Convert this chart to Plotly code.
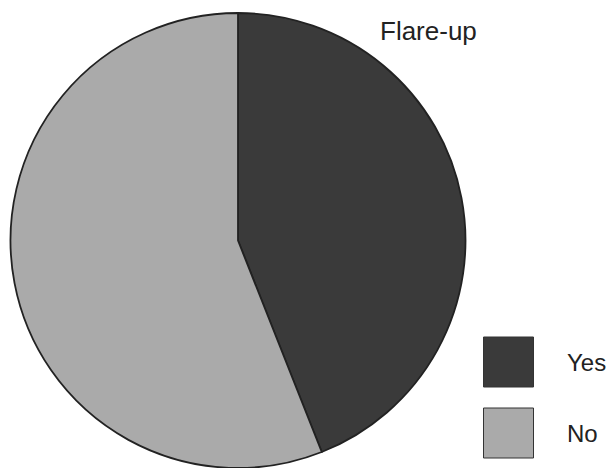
import plotly.graph_objects as go

# Flare-up occurrence (percent of patients)
categories = ["Yes", "No"]
shares = [44, 56]
slice_colors = ["#3a3a3a", "#aaaaaa"]
legend_title = "Flare-up"

W, H = 610, 468
FONT = "Liberation Sans, Arial, sans-serif"

fig = go.Figure(
    go.Pie(
        labels=categories,
        values=shares,
        sort=False,
        direction="clockwise",
        rotation=0,
        marker=dict(colors=slice_colors, line=dict(color="#222222", width=1.8)),
        textinfo="none",
        hoverinfo="label+percent",
        domain=dict(x=[10.5 / W, 465.5 / W], y=[0, 455 / H]),
        showlegend=False,
    )
)

# Hand-built legend with large swatches
def px(x):
    return x / W

def py(y):
    return 1 - y / H

shapes = []
annotations = [
    dict(text=legend_title, x=px(378), y=py(31), xref="paper", yref="paper",
         xanchor="left", yanchor="middle", showarrow=False,
         font=dict(family=FONT, size=26, color="#222222"))
]
box_tops = [337, 408]
for name, color, top in zip(categories, slice_colors, box_tops):
    shapes.append(dict(type="rect", xref="paper", yref="paper",
                       x0=px(483.5), x1=px(533.5), y0=py(top + 50), y1=py(top),
                       fillcolor=color, line=dict(color="#333333", width=1)))
    annotations.append(dict(text=name, x=px(565), y=py(top + 25), xref="paper", yref="paper",
                            xanchor="left", yanchor="middle", showarrow=False,
                            font=dict(family=FONT, size=24, color="#222222")))

fig.update_layout(
    width=W, height=H, autosize=False,
    margin=dict(l=0, r=0, t=0, b=0),
    paper_bgcolor="white", plot_bgcolor="white",
    shapes=shapes, annotations=annotations,
)

fig.write_html("out.html")
